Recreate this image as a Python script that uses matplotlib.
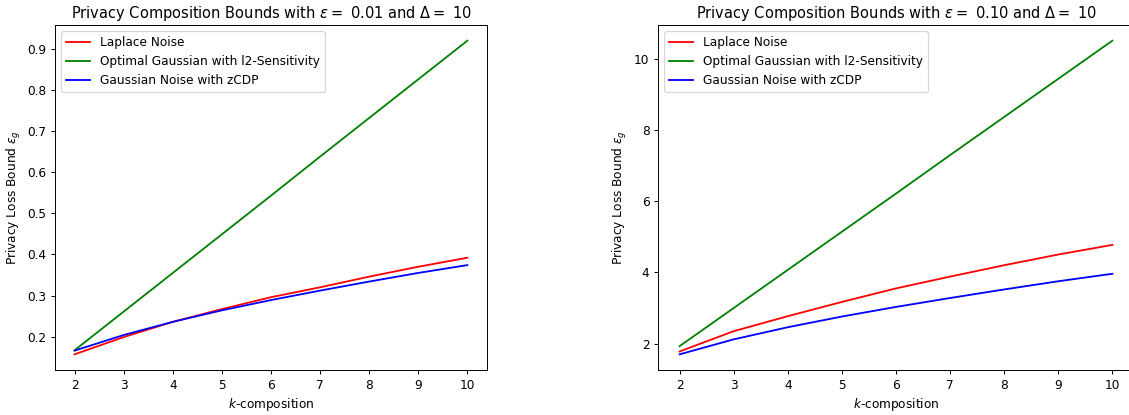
import matplotlib
matplotlib.use("Agg")
import matplotlib.pyplot as plt

k = [2, 3, 4, 5, 6, 7, 8, 9, 10]

# eps = 0.01
laplace_a = [0.157, 0.199, 0.236, 0.267, 0.296, 0.320, 0.346, 0.370, 0.392]
optgauss_a = [0.167, 0.261, 0.355, 0.449, 0.543, 0.638, 0.732, 0.826, 0.920]
zcdp_a = [0.166, 0.204, 0.236, 0.264, 0.289, 0.312, 0.334, 0.355, 0.374]

# eps = 0.10
laplace_b = [1.78, 2.35, 2.77, 3.17, 3.55, 3.88, 4.20, 4.50, 4.77]
optgauss_b = [1.93, 3.00, 4.07, 5.14, 6.21, 7.29, 8.36, 9.43, 10.50]
zcdp_b = [1.70, 2.12, 2.46, 2.76, 3.03, 3.28, 3.52, 3.75, 3.96]

eps_list = [0.01, 0.10]
delta = 10

# reference looks like it was saved at a lower dpi than 100
dpi = 87.5
W, H = 1129, 415
fig = plt.figure(figsize=(W / dpi, H / dpi), dpi=dpi)
ax1 = fig.add_axes([55 / W, 1 - 370 / H, 432 / W, 345 / H])
ax2 = fig.add_axes([658 / W, 1 - 370 / H, 476 / W, 345 / H])

data = [(ax1, laplace_a, optgauss_a, zcdp_a, eps_list[0]),
        (ax2, laplace_b, optgauss_b, zcdp_b, eps_list[1])]
for ax, lap, og, zc, eps in data:
    ax.plot(k, lap, color='red', label='Laplace Noise')
    ax.plot(k, og, color='green', label='Optimal Gaussian with l2-Sensitivity')
    ax.plot(k, zc, color='blue', label='Gaussian Noise with zCDP')
    ax.set_xlabel('$k$-composition')
    ax.set_ylabel(r'Privacy Loss Bound $\varepsilon_g$')
    ax.set_title(r'Privacy Composition Bounds with $\varepsilon =$ ' + f'{eps:.2f}' + r' and $\Delta =$ ' + f'{delta}')
    ax.legend(loc='upper left')

fig.savefig('out.png', dpi=dpi)
